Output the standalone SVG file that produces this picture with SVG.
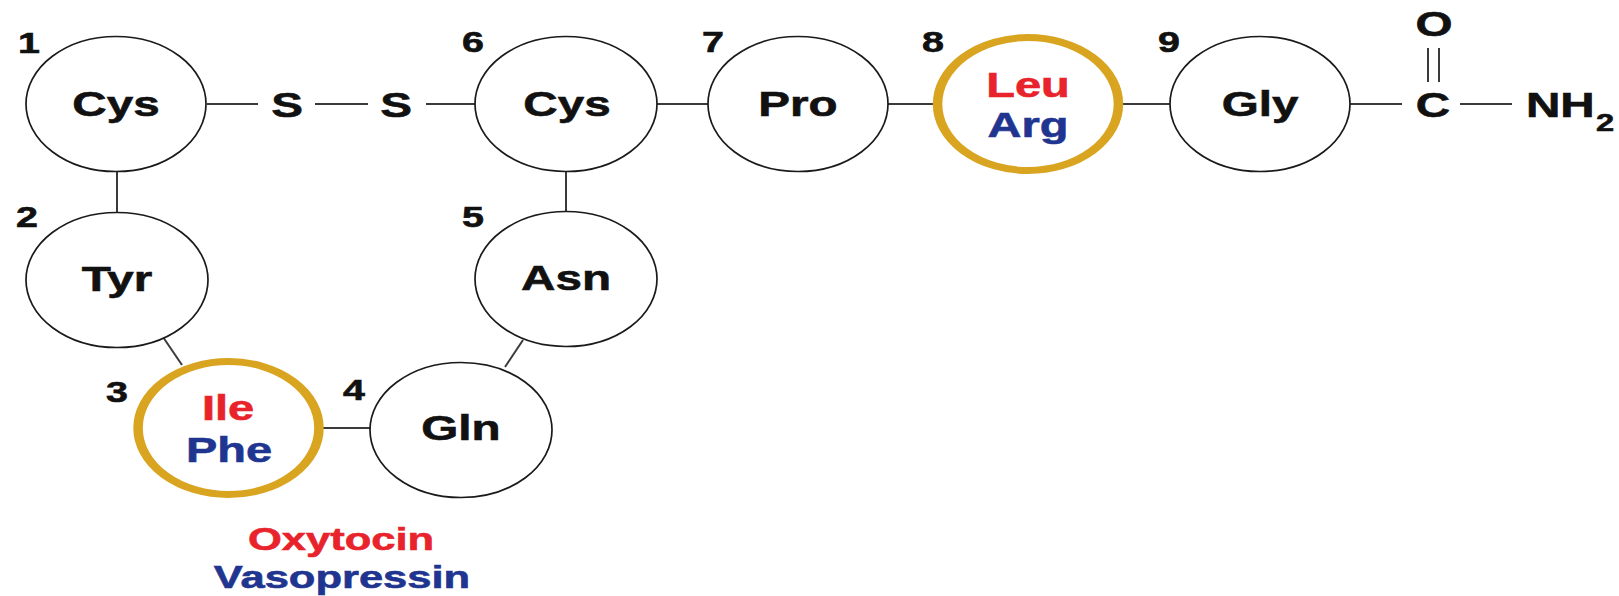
<svg xmlns="http://www.w3.org/2000/svg" width="1619" height="596" viewBox="0 0 1619 596">
  <style>
    .node { fill: #ffffff; stroke: #1a1a1a; stroke-width: 1.7; }
    .ring { fill: #ffffff; stroke: #D9A41F; stroke-width: 7; }
    .bond { stroke: #3a3a3a; stroke-width: 2; fill: none; }
    .t { font-family: "Liberation Sans", Arial, Helvetica, sans-serif; font-weight: bold; stroke-width: 0.6; }
    .res { font-size: 35px; fill: #111111; stroke: #111111; text-anchor: middle; }
    .num { font-size: 29px; fill: #111111; stroke: #111111; }
    .sub { font-size: 24px; fill: #111111; stroke: #111111; }
    .alt { font-size: 34.5px; text-anchor: middle; }
    .key { font-size: 32px; text-anchor: middle; }
    .oxy { fill: #E8232C; stroke: #E8232C; }
    .vaso { fill: #1F3590; stroke: #1F3590; }
  </style>
  <rect width="1619" height="596" fill="#ffffff"/>

  <!-- peptide bonds and disulfide bridge -->
  <g id="connectors">
    <line class="bond" x1="207" y1="104" x2="258" y2="104"/>
    <line class="bond" x1="315" y1="104" x2="368" y2="104"/>
    <line class="bond" x1="426" y1="104" x2="475" y2="104"/>
    <line class="bond" x1="117" y1="172" x2="117" y2="212"/>
    <line class="bond" x1="163" y1="337" x2="182" y2="365"/>
    <line class="bond" x1="322" y1="428" x2="370" y2="428"/>
    <line class="bond" x1="505" y1="367" x2="523" y2="340"/>
    <line class="bond" x1="566" y1="172" x2="566" y2="211"/>
    <line class="bond" x1="657" y1="104" x2="708" y2="104"/>
    <line class="bond" x1="888" y1="104" x2="933" y2="104"/>
    <line class="bond" x1="1123" y1="104" x2="1170" y2="104"/>
    <line class="bond" x1="1350" y1="104" x2="1402" y2="104"/>
    <line class="bond" x1="1460" y1="104" x2="1512" y2="104"/>
    <line class="bond" x1="1428" y1="48" x2="1428" y2="82"/>
    <line class="bond" x1="1439" y1="48" x2="1439" y2="82"/>
  </g>

  <!-- residue 1 -->
  <g id="res1">
    <ellipse class="node" cx="116" cy="104" rx="90" ry="67.5"/>
    <text class="t res" transform="translate(116,116) scale(1.36,1)">Cys</text>
    <text class="t num" transform="translate(18,53) scale(1.36,1)">1</text>
  </g>

  <!-- residue 2 -->
  <g id="res2">
    <ellipse class="node" cx="117" cy="280" rx="91" ry="67.5"/>
    <text class="t res" transform="translate(117,291) scale(1.36,1)">Tyr</text>
    <text class="t num" transform="translate(16,227) scale(1.36,1)">2</text>
  </g>

  <!-- residue 3: Ile / Phe -->
  <g id="res3">
    <circle class="ring" r="66.5" transform="translate(228.5,428) scale(1.36,1)"/>
    <text class="t alt oxy" transform="translate(228,420) scale(1.36,1)">Ile</text>
    <text class="t alt vaso" transform="translate(229,462) scale(1.36,1)">Phe</text>
    <text class="t num" transform="translate(106,402) scale(1.36,1)">3</text>
  </g>

  <!-- residue 4 -->
  <g id="res4">
    <ellipse class="node" cx="461" cy="430" rx="91" ry="67.5"/>
    <text class="t res" transform="translate(461,440) scale(1.36,1)">Gln</text>
    <text class="t num" transform="translate(343,400) scale(1.36,1)">4</text>
  </g>

  <!-- residue 5 -->
  <g id="res5">
    <ellipse class="node" cx="566" cy="279" rx="91" ry="67.5"/>
    <text class="t res" transform="translate(566,290) scale(1.36,1)">Asn</text>
    <text class="t num" transform="translate(462,227) scale(1.36,1)">5</text>
  </g>

  <!-- residue 6 -->
  <g id="res6">
    <ellipse class="node" cx="566" cy="104" rx="91" ry="67.5"/>
    <text class="t res" transform="translate(567,116) scale(1.36,1)">Cys</text>
    <text class="t num" transform="translate(462,52) scale(1.36,1)">6</text>
  </g>

  <!-- residue 7 -->
  <g id="res7">
    <ellipse class="node" cx="798" cy="104" rx="90" ry="67.5"/>
    <text class="t res" transform="translate(798,116) scale(1.36,1)">Pro</text>
    <text class="t num" transform="translate(702,52) scale(1.36,1)">7</text>
  </g>

  <!-- residue 8: Leu / Arg -->
  <g id="res8">
    <circle class="ring" r="66.5" transform="translate(1028,104) scale(1.36,1)"/>
    <text class="t alt oxy" transform="translate(1028,97) scale(1.36,1)">Leu</text>
    <text class="t alt vaso" transform="translate(1028,137) scale(1.36,1)">Arg</text>
    <text class="t num" transform="translate(922,52) scale(1.36,1)">8</text>
  </g>

  <!-- residue 9 -->
  <g id="res9">
    <ellipse class="node" cx="1260" cy="104" rx="90" ry="67.5"/>
    <text class="t res" transform="translate(1260,116) scale(1.36,1)">Gly</text>
    <text class="t num" transform="translate(1158,52) scale(1.36,1)">9</text>
  </g>

  <!-- C-terminal amide -->
  <g id="amide">
    <text class="t res" transform="translate(1434,36) scale(1.36,1)">O</text>
    <text class="t res" transform="translate(1433,117) scale(1.36,1)">C</text>
    <text class="t res" style="text-anchor:start" transform="translate(1526,117) scale(1.36,1)">NH</text>
    <text class="t sub" transform="translate(1596,131) scale(1.36,1)">2</text>
  </g>

  <!-- legend -->
  <g id="legend">
    <text class="t key oxy" transform="translate(341,550) scale(1.36,1)">Oxytocin</text>
    <text class="t key vaso" transform="translate(342,588) scale(1.36,1)">Vasopressin</text>
  </g>

  <!-- disulfide sulfur atoms -->
  <g id="sulfur">
    <text class="t res" transform="translate(287,117) scale(1.36,1)">S</text>
    <text class="t res" transform="translate(396,117) scale(1.36,1)">S</text>
  </g>
</svg>
